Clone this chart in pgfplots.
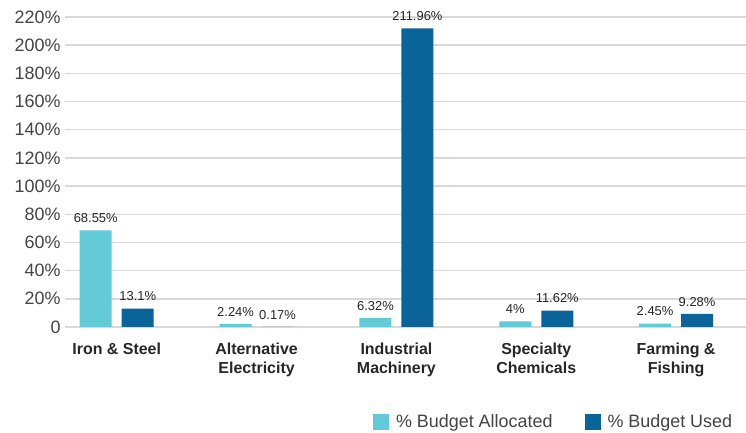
\documentclass[border=0pt]{standalone}
\usepackage{fontspec}
\setmainfont{Liberation Sans}
\usepackage{pgfplots}
\usepackage{pgfplotstable}
\pgfplotsset{compat=1.18}
\definecolor{alloc}{HTML}{63CAD8}
\definecolor{used}{HTML}{0A6399}
\definecolor{gridc}{HTML}{D9D9D9}
\definecolor{tickc}{HTML}{444444}

\pgfplotstableread{
x alloc used
0 68.55 13.1
1 2.24 0.17
2 6.32 211.96
3 4 11.62
4 2.45 9.28
}\budget

\begin{document}
\begin{tikzpicture}[x=1bp,y=1bp]
\path[use as bounding box] (0,0) rectangle (746,433);
\begin{axis}[
    at={(65bp,106bp)}, anchor=south west,
    scale only axis,
    width=681bp, height=310bp,
    xmin=-0.37, xmax=4.5,
    ymin=0, ymax=220,
    ytick={0,20,...,220},
    xtick={0,1,2,3,4},
    xticklabels={Iron \& Steel, Alternative\\Electricity, Industrial\\Machinery, Specialty\\Chemicals, Farming \&\\Fishing},
    xticklabel style={font=\fontsize{16}{20}\selectfont\bfseries, align=center, text=black!85, yshift=-12bp},
    yticklabel={\ifdim\tick pt=0pt 0\else\pgfmathprintnumber{\tick}\%\fi},
    yticklabel style={font=\fontsize{18}{20}\selectfont, text=tickc, xshift=-1bp},
    major tick length=0pt,
    axis line style={draw=none},
    ymajorgrids,
    grid style={gridc, line width=1.5bp},
    ybar=10bp,
    bar width=32bp,
    nodes near coords={\pgfmathprintnumber{\pgfplotspointmeta}\%},
    nodes near coords style={font=\fontsize{13}{14}\selectfont, text=black!85, yshift=4bp},
    /pgf/number format/precision=2,
    /pgf/number format/assume math mode=true,
    legend style={at={(rel axis cs:0.452,-0.275)}, anchor=north west, draw=none, inner sep=0pt,
        legend columns=2, font=\fontsize{18}{21}\selectfont, text=tickc,
        /tikz/every odd column/.append style={column sep=5bp},
        /tikz/every even column/.append style={column sep=30bp}},
    legend image code/.code={\fill[#1] (0bp,-8bp) rectangle (16bp,8bp);},
]
\addplot[fill=alloc, draw=none] table[x=x, y=alloc] {\budget};
\addlegendentry{\% Budget Allocated}
\addplot[fill=used, draw=none] table[x=x, y=used] {\budget};
\addlegendentry{\% Budget Used}
\end{axis}
\end{tikzpicture}
\end{document}
